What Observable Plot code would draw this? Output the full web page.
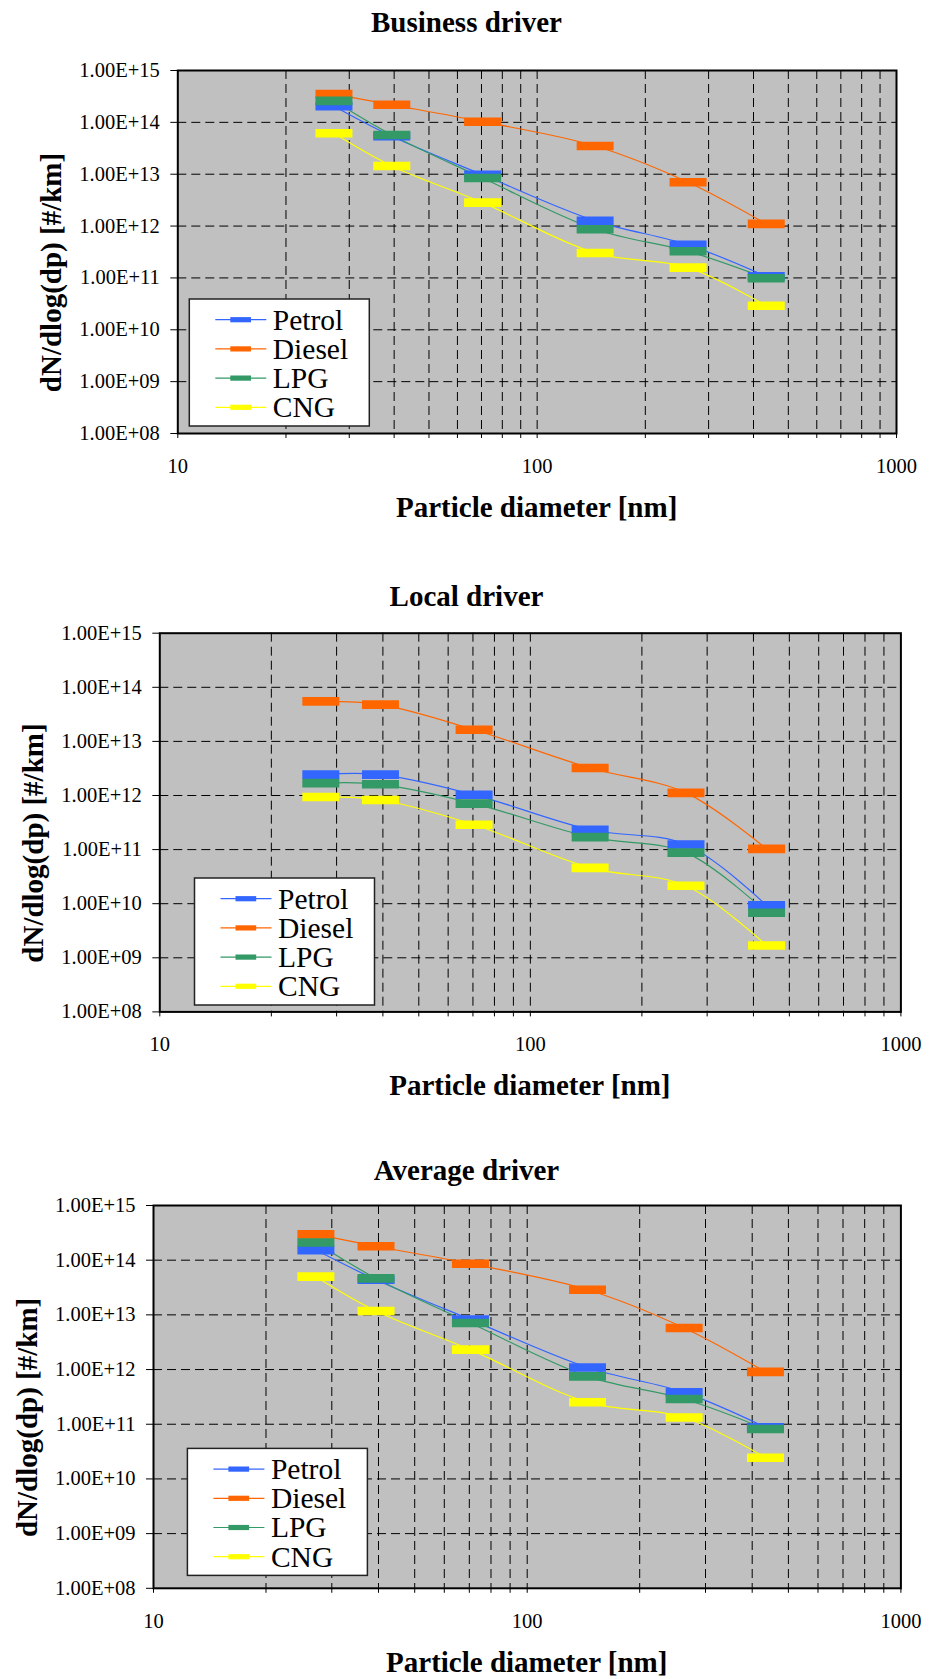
<!DOCTYPE html>
<html><head><meta charset="utf-8">
<script src="https://cdn.jsdelivr.net/npm/d3@7"></script>
<script src="https://cdn.jsdelivr.net/npm/@observablehq/plot@0.6"></script>
<style>
html,body{margin:0;padding:0;background:#fff;}
svg{display:block;}
</style></head><body><div id="root"></div>
<script>
// ---------- data ----------
const diameters = [27.2, 39.4, 70.5, 145, 263, 434];
const fuels = ["Petrol", "Diesel", "LPG", "CNG"];
const fuelColors = ["#3366FF", "#FF6600", "#339966", "#FFFF00"];
const chartTitles = ["Business driver", "Local driver", "Average driver"];
const xTitle = "Particle diameter [nm]";
const yTitle = "dN/dlog(dp) [#/km]";
const xTickLabels = [10, 100, 1000];
const xMinorTicks = [20, 30, 40, 50, 60, 70, 80, 90, 200, 300, 400, 500, 600, 700, 800, 900];
const yTickValues = [1e8, 1e9, 1e10, 1e11, 1e12, 1e13, 1e14, 1e15];

const businessPetrol = [2.05e14, 5.4e13, 9.75e12, 1.26e12, 4.35e11, 1.07e11];
const businessDiesel = [3.5e14, 2.18e14, 1.03e14, 3.5e13, 7.0e12, 1.1e12];
const businessLPG    = [2.6e14, 5.7e13, 8.45e12, 8.7e11, 3.26e11, 9.85e10];
const businessCNG    = [6.15e13, 1.44e13, 2.83e12, 3.03e11, 1.58e11, 2.9e10];

const localPetrol = [2.43e12, 2.43e12, 1.03e12, 2.33e11, 1.24e11, 9.3e9];
const localDiesel = [5.5e13, 4.78e13, 1.64e13, 3.22e12, 1.12e12, 1.03e11];
const localLPG    = [1.69e12, 1.61e12, 7.08e11, 1.70e11, 8.8e10, 6.8e9];
const localCNG    = [9.4e11, 8.25e11, 2.88e11, 4.6e10, 2.15e10, 1.69e9];

const averagePetrol = [1.53e14, 4.4e13, 8.2e12, 1.09e12, 3.82e11, 8.8e10];
const averageDiesel = [2.97e14, 1.8e14, 8.6e13, 2.88e13, 5.77e12, 9.07e11];
const averageLPG    = [2.1e14, 4.64e13, 7.1e12, 7.5e11, 2.9e11, 8.2e10];
const averageCNG    = [5.0e13, 1.18e13, 2.31e12, 2.53e11, 1.33e11, 2.44e10];

const chartSeries = [
  [businessPetrol, businessDiesel, businessLPG, businessCNG],
  [localPetrol, localDiesel, localLPG, localCNG],
  [averagePetrol, averageDiesel, averageLPG, averageCNG]
];

// ---------- layout (styles) ----------
const layouts = [
  {height: 540, mt: 70,   mb: 107,   ml: 177.3, mr: 34,   titleY: 31.7, legL: 12,   legB: 7},
  {height: 580, mt: 92.7, mb: 108.6, ml: 159.3, mr: 29.6, titleY: 66,   legL: 35.2, legB: 6.4},
  {height: 559, mt: 85,   mb: 91.2,  ml: 153,   mr: 29.6, titleY: 60,   legL: 34.4, legB: 12.4}
];
const W = 930;
const serif = "'Liberation Serif', 'Times New Roman', Times, serif";

const fmtE = d => {
  const [m, e] = d.toExponential(2).split("e");
  return m + "E" + e[0] + e.slice(1).padStart(2, "0");
};

const dashSymbol = {
  draw(ctx) {
    ctx.moveTo(-18.5, -4.3); ctx.lineTo(18.5, -4.3);
    ctx.lineTo(18.5, 4.3); ctx.lineTo(-18.5, 4.3); ctx.closePath();
  }
};

const root = document.getElementById("root");

chartSeries.forEach((series, ci) => {
  const L = layouts[ci];
  const data = fuels.flatMap((f, i) => series[i].map((v, j) => ({fuel: f, d: diameters[j], v})));
  const svg = Plot.plot({
    width: W, height: L.height,
    marginTop: L.mt, marginBottom: L.mb, marginLeft: L.ml, marginRight: L.mr,
    style: {fontFamily: serif, fontSize: "20.5px", color: "#000", background: "#fff"},
    x: {type: "log", domain: [10, 1000], label: null},
    y: {type: "log", domain: [1e8, 1e15], label: null},
    color: {domain: fuels, range: fuelColors},
    marks: [
      Plot.frame({fill: "#C0C0C0", stroke: null}),
      Plot.ruleY(yTickValues.slice(1, -1), {stroke: "#000", strokeWidth: 1, strokeDasharray: "9,5"}),
      Plot.ruleX([...xMinorTicks, 100], {stroke: "#000", strokeWidth: 1, strokeDasharray: "9,5"}),
      Plot.line(data, {x: "d", y: "v", z: "fuel", stroke: "fuel", strokeWidth: 1.2, curve: "catmull-rom"}),
      Plot.dot(data, {x: "d", y: "v", fill: "fuel", stroke: "none", symbol: dashSymbol}),
      Plot.axisY({ticks: yTickValues, tickFormat: fmtE, tickSize: 7, tickPadding: 11, fontSize: 20.5, label: null, stroke: "#000"}),
      Plot.axisX({ticks: xTickLabels, tickFormat: d => String(d), tickSize: 5, tickPadding: 20, fontSize: 20.5, label: null, stroke: "#000"}),
      Plot.axisX({ticks: xMinorTicks, tickFormat: () => "", tickSize: 5, label: null, stroke: "#000"}),
      Plot.frame({stroke: "#000", strokeWidth: 2})
    ]
  });
  const s = d3.select(svg);
  const plotL = L.ml, plotR = W - L.mr, plotT = L.mt, plotB = L.height - L.mb;
  // title
  s.append("text").attr("x", 466.5).attr("y", L.titleY).attr("text-anchor", "middle")
    .style("font", `bold 29px ${serif}`).attr("fill", "#000").text(chartTitles[ci]);
  // x title
  s.append("text").attr("x", (plotL + plotR) / 2).attr("y", plotB + 84).attr("text-anchor", "middle")
    .style("font", `bold 29px ${serif}`).attr("fill", "#000").text(xTitle);
  // y title
  s.append("text").attr("transform", `translate(${plotL - 126},${(plotT + plotB) / 2 + 21}) rotate(-90)`)
    .attr("text-anchor", "middle").attr("dy", "0.35em")
    .style("font", `bold 29px ${serif}`).attr("fill", "#000").text(yTitle);
  // legend
  const bw = 180, bh = 127;
  const bx = plotL + L.legL, by = plotB - L.legB - bh;
  const g = s.append("g").attr("transform", `translate(${bx},${by})`);
  g.append("rect").attr("width", bw).attr("height", bh).attr("fill", "#fff").attr("stroke", "#222").attr("stroke-width", 1.5);
  fuels.forEach((f, i) => {
    const yy = 20.7 + i * 29.2;
    g.append("line").attr("x1", 26).attr("x2", 77).attr("y1", yy).attr("y2", yy)
      .attr("stroke", fuelColors[i]).attr("stroke-width", 1.2);
    g.append("rect").attr("x", 41).attr("y", yy - 2.6).attr("width", 20.7).attr("height", 5.2).attr("fill", fuelColors[i]);
    g.append("text").attr("x", 83.5).attr("y", yy + 10).attr("text-anchor", "start")
      .style("font", `29.5px ${serif}`).attr("fill", "#000").text(f);
  });
  root.appendChild(svg);
});
</script></body></html>
